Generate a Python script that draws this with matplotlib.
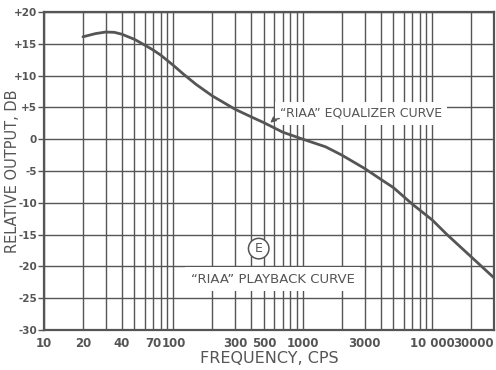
import numpy as np
import matplotlib
matplotlib.use("Agg")
import matplotlib.pyplot as plt
from matplotlib.ticker import FixedLocator, LogLocator, NullFormatter

# values
freq = [20, 25, 30, 35, 40, 50, 60, 70, 80, 100, 120, 150, 200, 300, 400,
        500, 700, 1000, 1500, 2000, 3000, 4000, 5000, 7000, 10000, 13000,
        20000, 30000]
db = [16.1, 16.6, 16.85, 16.8, 16.5, 15.7, 14.8, 14.0, 13.2, 11.6, 10.2, 8.6,
      6.8, 4.7, 3.5, 2.6, 1.1, 0.0, -1.2, -2.5, -4.6, -6.3, -7.6, -10.2,
      -12.7, -15.0, -18.5, -21.8]

xticks = [10, 20, 40, 70, 100, 300, 500, 1000, 3000, 10000, 30000]
xlabels = ["10", "20", "40", "70", "100", "300", "500", "1000", "3000",
           "10 000", "30000"]
yticks = [20, 15, 10, 5, 0, -5, -10, -15, -20, -25, -30]
ylabels = ["+20", "+15", "+10", "+5", "0", "-5", "-10", "-15", "-20", "-25", "-30"]

ink = "#555555"

plt.rcParams["font.family"] = ["DejaVu Sans"]

fig = plt.figure(figsize=(4.96, 3.70), dpi=100)
ax = fig.add_axes([0.0887, 0.1081, 0.9073, 0.8595])

ax.set_xscale("log")
ax.set_xlim(10, 30000)
ax.set_ylim(-30, 20)

ax.xaxis.set_major_locator(FixedLocator(xticks))
ax.set_xticklabels(xlabels)
ax.xaxis.set_minor_locator(LogLocator(base=10, subs=np.arange(2, 10)))
ax.xaxis.set_minor_formatter(NullFormatter())
ax.set_yticks(yticks)
ax.set_yticklabels(ylabels)

ax.grid(True, which="both", axis="x", color=ink, lw=1.0)
ax.grid(True, which="major", axis="y", color=ink, lw=1.0)
ax.set_axisbelow(True)

ax.tick_params(axis="x", which="both", length=0, pad=5, labelsize=8.5, colors=ink)
ax.tick_params(axis="y", length=4, width=1.0, pad=1, labelsize=7.5, colors=ink)
for lab in ax.get_xticklabels() + ax.get_yticklabels():
    lab.set_fontweight("bold")
ax.get_xticklabels()[-1].set_horizontalalignment("right")

for s in ax.spines.values():
    s.set_color(ink)
    s.set_linewidth(1.6)

ax.plot(freq, db, color=ink, lw=2.0, zorder=5, solid_capstyle="round",
        solid_joinstyle="round")

ax.set_xlabel("FREQUENCY, CPS", fontsize=11.5, color=ink, labelpad=1)
fig.text(0.025, 0.538, "RELATIVE OUTPUT, DB", fontsize=10.5, color=ink,
         rotation=90, ha="center", va="center")

ax.text(668, 4.1, "\u201cRIAA\u201d EQUALIZER CURVE", fontsize=9,
        color=ink, ha="left", va="center", zorder=4,
        bbox=dict(boxstyle="square,pad=0.4", fc="white", ec="none"))
ax.annotate("", xy=(540, 2.3), xytext=(690, 3.3),
            arrowprops=dict(arrowstyle="-|>", color=ink, lw=1.0,
                            connectionstyle="arc3,rad=0.2", mutation_scale=8),
            zorder=6)

ax.text(456, -17.2, "E", fontsize=9, color=ink, ha="center", va="center", zorder=4,
        bbox=dict(boxstyle="circle,pad=0.3", fc="white", ec=ink, lw=1.1))
ax.text(585, -22.0, "\u201cRIAA\u201d PLAYBACK CURVE", fontsize=9.5,
        color=ink, ha="center", va="center", zorder=4,
        bbox=dict(boxstyle="square,pad=0.4", fc="white", ec="none"))

fig.savefig("out.png", dpi=100, facecolor="white")
